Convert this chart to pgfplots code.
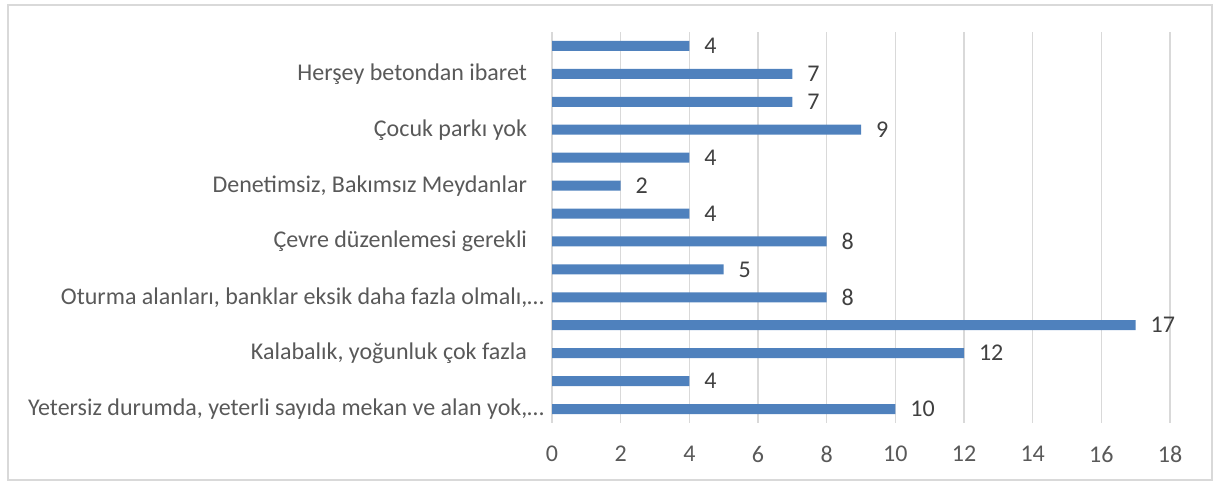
\documentclass[border=0pt]{standalone}
\usepackage{fontspec}
\setmainfont{Carlito}
\usepackage{pgfplots}
\pgfplotsset{compat=1.18}
\definecolor{barblue}{HTML}{4F81BD}
\definecolor{gridgray}{HTML}{D9D9D9}
\definecolor{labelgray}{HTML}{595959}
\definecolor{valgray}{HTML}{404040}

\begin{document}
\begin{tikzpicture}
\path[use as bounding box] (0,0) rectangle (615pt,243pt);
\draw[gridgray, line width=0.6pt] (4pt,3pt) rectangle (606pt,240.5pt);
\begin{axis}[
  scale only axis,
  at={(276pt,31.5pt)}, anchor=south west,
  width=309pt, height=195.5pt,
  xbar, bar width=5pt,
  xmin=0, xmax=18, ymin=-0.5, ymax=13.5,
  xtick={0,2,...,18},
  ytick={0,2,4,6,8,10,12},
  yticklabels={
    {Yetersiz durumda, yeterli sayıda mekan ve alan yok,…},
    {Kalabalık, yoğunluk çok fazla\kern8.5pt},
    {Oturma alanları, banklar eksik daha fazla olmalı,…},
    {Çevre düzenlemesi gerekli\kern8.5pt},
    {Denetimsiz, Bakımsız Meydanlar\kern8.5pt},
    {Çocuk parkı yok\kern8.5pt},
    {Herşey betondan ibaret\kern8.5pt}},
  axis line style={draw=none},
  major tick length=0pt,
  xmajorgrids, grid style={gridgray, line width=0.75pt},
  /pgf/number format/assume math mode=true,
  xticklabel style={font=\fontsize{12}{14}\selectfont, text=labelgray, yshift=-8pt},
  yticklabel style={font=\fontsize{12}{14}\selectfont, text=labelgray, xshift=-0.5pt},
  nodes near coords,
  every node near coord/.append style={font=\fontsize{12}{14}\selectfont, text=valgray, xshift=4pt},
  clip=false,
]
\addplot[fill=barblue, draw=none] coordinates {
  (10,0) (4,1) (12,2) (17,3) (8,4) (5,5) (8,6)
  (4,7) (2,8) (4,9) (9,10) (7,11) (7,12) (4,13)};
\end{axis}
\end{tikzpicture}
\end{document}
